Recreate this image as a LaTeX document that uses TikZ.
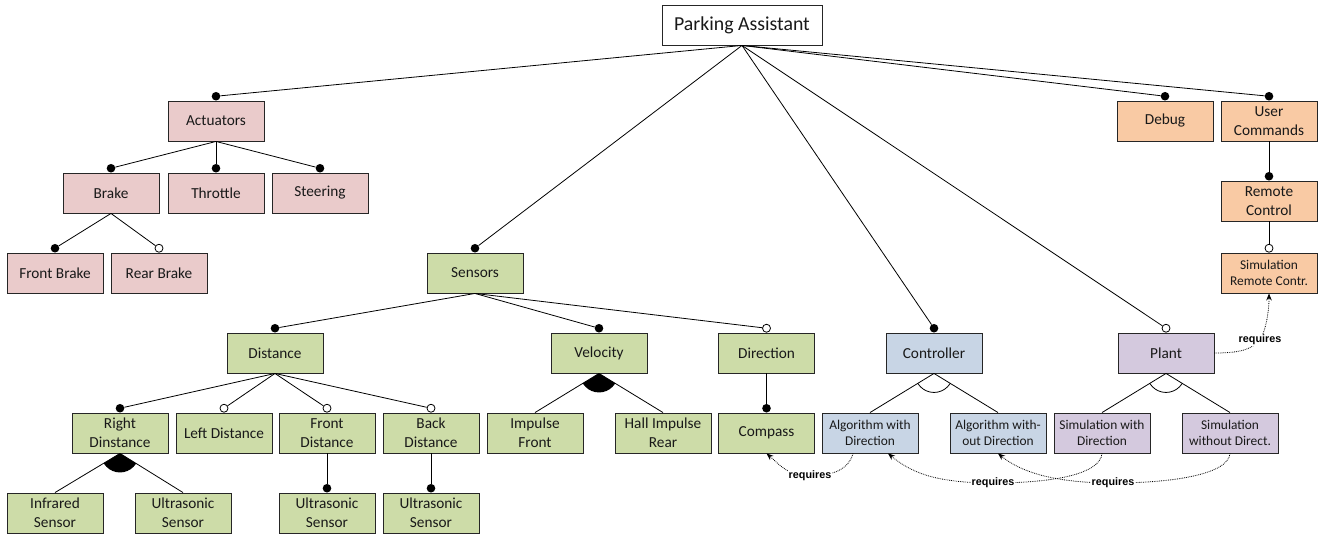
\documentclass[tikz,border=0pt]{standalone}
\usepackage{fontspec}
\setmainfont{Carlito}
\newfontfamily\reqfont{Liberation Sans}
\usetikzlibrary{arrows.meta,calc}
\definecolor{cpink}{HTML}{EACBCB}
\definecolor{cgreen}{HTML}{CDDCA8}
\definecolor{cblue}{HTML}{C8D5E5}
\definecolor{cpurple}{HTML}{D4C9DE}
\definecolor{corange}{HTML}{F9CAA4}
\tikzset{
  box/.style={draw=black!85, line width=0.9pt, minimum width=96pt, minimum height=40pt,
    inner sep=0pt, align=center, font=\fontsize{15.3}{19}\selectfont, text=black!90},
  small/.style={font=\fontsize{13.4}{16}\selectfont},
  pinkbox/.style={box, fill=cpink},
  greenbox/.style={box, fill=cgreen},
  bluebox/.style={box, fill=cblue},
  purplebox/.style={box, fill=cpurple},
  orangebox/.style={box, fill=corange},
  con/.style={line width=0.8pt},
  manddot/.style={circle, fill=black, inner sep=0pt, minimum size=8.6pt},
  optdot/.style={circle, draw=black, fill=white, line width=0.8pt, inner sep=0pt, minimum size=8pt},
  req/.style={densely dotted, line width=0.8pt, -{Stealth[length=7pt,width=5.5pt]}},
  lbl/.style={fill=white, inner sep=1pt, font=\reqfont\bfseries\fontsize{10.8}{12}\selectfont},
}
\newcommand{\fmand}[3]{\node[manddot] (#3) at ($(#2.north)+(0,4.3)$) {}; \draw[con] (#1.south) -- (#3);}
\newcommand{\fopt}[3]{\node[optdot] (#3) at ($(#2.north)+(0,4.3)$) {}; \draw[con] (#1.south) -- (#3);}
\newcommand{\falt}[4]{%
  \draw[con] (#1.south) -- (#2.north); \draw[con] (#1.south) -- (#3.north);
  \begin{scope}\clip (#1.south) -- (#2.north) -- (#3.north) -- cycle;
  \path[#4] (#1.south) circle (19pt);\end{scope}}
\begin{document}
\begin{tikzpicture}[x=1pt,y=1pt]
\useasboundingbox (0,0) rectangle (1321,-534);
% root
\node[box, fill=white, minimum width=160pt, font=\fontsize{19.8}{22}\selectfont] (pa) at (742,-25) {Parking Assistant};
% actuators
\node[pinkbox] (act) at (216,-121) {Actuators};
\node[pinkbox] (brake) at (111,-193) {Brake};
\node[pinkbox] (throttle) at (216,-193) {Throttle};
\node[pinkbox] (steering) at (320,-193) {Steering};
\node[pinkbox] (fbrake) at (55,-273) {Front Brake};
\node[pinkbox] (rbrake) at (159,-273) {Rear Brake};
% sensors
\node[greenbox] (sensors) at (475,-273) {Sensors};
\node[greenbox] (distance) at (275,-353) {Distance};
\node[greenbox] (velocity) at (599,-353) {Velocity};
\node[greenbox] (direction) at (766.5,-353) {Direction};
\node[greenbox] (rdist) at (120,-433) {Right\\Dinstance};
\node[greenbox] (ldist) at (224,-433) {Left Distance};
\node[greenbox] (fdist) at (327,-433) {Front\\Distance};
\node[greenbox] (bdist) at (431,-433) {Back\\Distance};
\node[greenbox] (infra) at (55,-513) {Infrared\\Sensor};
\node[greenbox] (usa) at (183,-513) {Ultrasonic\\Sensor};
\node[greenbox] (usb) at (327,-513) {Ultrasonic\\Sensor};
\node[greenbox] (usc) at (431,-513) {Ultrasonic\\Sensor};
\node[greenbox] (impf) at (535,-433) {Impulse\\Front};
\node[greenbox] (hall) at (663,-433) {Hall Impulse\\Rear};
\node[greenbox] (compass) at (766.5,-433) {Compass};
% controller / plant
\node[bluebox] (ctrl) at (934,-353) {Controller};
\node[purplebox] (plant) at (1166,-353) {Plant};
\node[bluebox, small] (algdir) at (870,-433) {Algorithm with\\Direction};
\node[bluebox, small] (algwo) at (998,-433) {Algorithm with-\\out Direction};
\node[purplebox, small] (simdir) at (1102,-433) {Simulation with\\Direction};
\node[purplebox, small] (simwo) at (1230,-433) {Simulation\\without Direct.};
% debug / user commands
\node[orangebox] (debug) at (1165,-121) {Debug};
\node[orangebox] (ucmd) at (1269,-121) {User\\Commands};
\node[orangebox] (rctrl) at (1269,-201) {Remote\\Control};
\node[orangebox, small] (simrc) at (1269,-273) {Simulation\\Remote Contr.};
% edges from root
\fmand{pa}{act}{d1}
\fmand{pa}{sensors}{d2}
\fmand{pa}{ctrl}{d3}
\fopt{pa}{plant}{d4}
\fmand{pa}{debug}{d5}
\fmand{pa}{ucmd}{d6}
% actuators
\fmand{act}{brake}{d7}
\fmand{act}{throttle}{d8}
\fmand{act}{steering}{d9}
\fmand{brake}{fbrake}{d10}
\fopt{brake}{rbrake}{d11}
% sensors
\fmand{sensors}{distance}{d12}
\fmand{sensors}{velocity}{d13}
\fopt{sensors}{direction}{d14}
\fmand{distance}{rdist}{d15}
\fopt{distance}{ldist}{d16}
\fopt{distance}{fdist}{d17}
\fopt{distance}{bdist}{d18}
\fmand{fdist}{usb}{d19}
\fmand{bdist}{usc}{d20}
\fmand{direction}{compass}{d21}
\falt{rdist}{infra}{usa}{fill=black}
\falt{velocity}{impf}{hall}{fill=black}
% controller / plant
\falt{ctrl}{algdir}{algwo}{draw=black, line width=0.8pt}
\falt{plant}{simdir}{simwo}{draw=black, line width=0.8pt}
% user commands
\fmand{ucmd}{rctrl}{d22}
\fopt{rctrl}{simrc}{d23}
% requires
\draw[req] ([xshift=-17pt]algdir.south) .. controls +(-4,-16) and +(22,0) .. (810,-476) node[lbl] {requires}
  .. controls +(-22,0) and +(14,-12) .. (compass.south);
\draw[req] (simdir.south) .. controls +(-2,-22) and +(55,0) .. (993,-483) node[lbl] {requires}
  .. controls +(-60,0) and +(22,-18) .. ([xshift=18pt]algdir.south);
\draw[req] (simwo.south) .. controls +(-2,-22) and +(55,0) .. (1113,-483) node[lbl] {requires}
  .. controls +(-60,0) and +(22,-18) .. (algwo.south);
\draw[req] (plant.east) .. controls +(30,0) and +(-8,-8) .. (1260,-340) node[lbl] {requires}
  .. controls +(6,10) and +(0,-18) .. (simrc.south);
\end{tikzpicture}
\end{document}
